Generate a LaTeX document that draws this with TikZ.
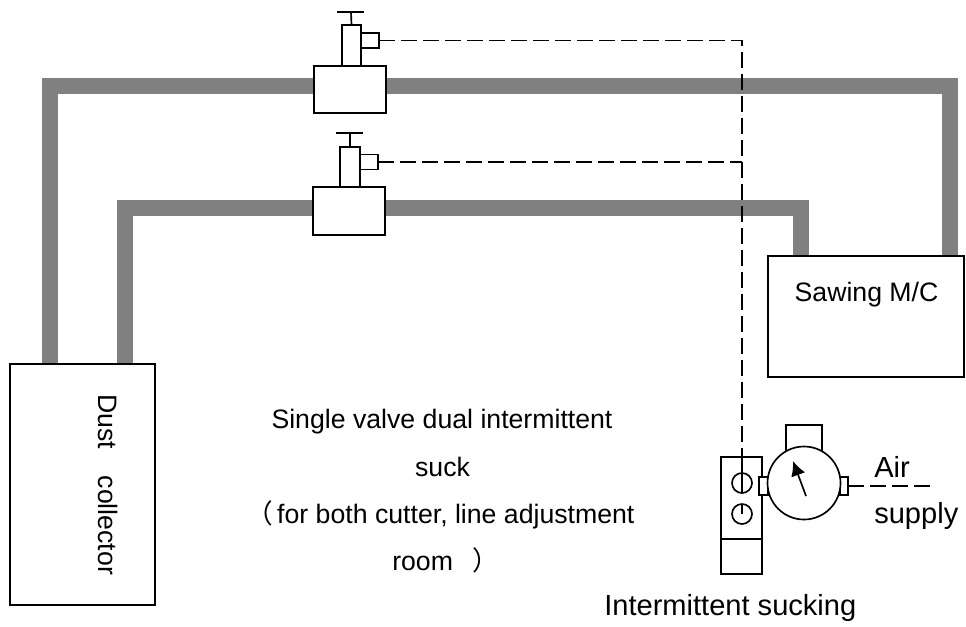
\documentclass[tikz,border=0pt]{standalone}
\usepackage{fontspec}
\setmainfont{Liberation Sans}
\newfontfamily\cjk{Noto Sans CJK SC}
\usetikzlibrary{arrows.meta,backgrounds}
\definecolor{ductgray}{HTML}{808080}
\tikzset{
  boxsize/.style 2 args={minimum width=#1*0.75pt,minimum height=#2*0.75pt},
  box/.style={draw,fill=white,line width=1.25pt,inner sep=0pt,outer sep=0pt},
  roundbox/.style={box,circle,minimum size=#1*0.75pt},
  duct/.style={line width=12pt,draw=ductgray},
  signal/.style={line width=1.3pt,dash pattern=on 12pt off 4.5pt},
  rod/.style={line width=1.25pt},
  txt/.style={inner sep=0pt,anchor=base,font=\fontsize{20}{24}\selectfont},
  bigtxt/.style={inner sep=0pt,anchor=base west,font=\fontsize{21.8}{26}\selectfont},
}
\begin{document}
\begin{tikzpicture}[x=0.75pt,y=-0.75pt]
  \useasboundingbox (0,0) rectangle (966,626);

  \node[box,boxsize={145}{241}] (dust) at (82.5,484.5) {};
  \node[box,boxsize={196}{121}] (saw) at (866,316.5) {};

  \coordinate (cornerA) at (49.5,86);
  \coordinate (cornerB) at (950,86);
  \coordinate (cornerC) at (125,208);
  \coordinate (cornerD) at (801,208);
  \begin{scope}[on background layer]
    \draw[duct] (cornerA |- dust.north) -- (cornerA) -- (cornerB) -- (cornerB |- saw.north);
    \draw[duct] (cornerC |- dust.north) -- (cornerC) -- (cornerD) -- (cornerD |- saw.north);
  \end{scope}

  % upper valve
  \node[box,boxsize={72}{47}] (bodyA) at (350,89.5) {};
  \node[box,boxsize={19}{41}] (stemA) at (351.5,45.5) {};
  \node[box,boxsize={18}{15}] (sideA) at (370,40.5) {};
  \coordinate (knobA) at (351,12);
  \draw[rod] (knobA) -- (stemA.north);
  \draw[rod] ([xshift=-10.5pt]knobA) -- ([xshift=10pt]knobA);

  % lower valve
  \node[box,boxsize={72}{48}] (bodyB) at (349,211) {};
  \node[box,boxsize={20}{40}] (stemB) at (350,167) {};
  \node[box,boxsize={18}{15}] (sideB) at (369,162) {};
  \coordinate (knobB) at (350,133);
  \draw[rod] (knobB) -- (stemB.north);
  \draw[rod] ([xshift=-10.5pt]knobB) -- ([xshift=10pt]knobB);

  % timer and gauge
  \node[box,boxsize={41}{117}] (timer) at (741.5,515.5) {};
  \node[box,boxsize={41}{35}] (timerfoot) at (741.5,556.5) {};
  \node[roundbox=20] (holeA) at (742,483) {};
  \node[roundbox=20] (holeB) at (742,514) {};
  \node[box,boxsize={36}{30}] (gaugetop) at (804,440) {};
  \node[box,boxsize={9}{18}] (portL) at (763.5,486) {};
  \node[box,boxsize={8}{18}] (portR) at (844,486) {};
  \node[roundbox=73] (gauge) at (804,483) {};
  \coordinate (needle) at (806,496);
  \coordinate (needletip) at (793,461);
  \coordinate (airend) at (930,486);
  \draw[rod,-{Latex[length=11pt,width=11pt]}] (needle) -- (needletip);

  \draw[signal] (sideA.east) -| (timer.north -| holeA);
  \draw[signal] (sideB.east) -- (sideB.east -| holeA);
  \draw[signal] (portR.east) -- (airend);
  \draw[rod] (timer.north -| holeA) -- (holeA.south);
  \draw[rod] (holeB.north) -- (holeB.center);

  \node[txt] (sawtext) at (866.5,301) {Sawing M/C};
  \node[txt,anchor=base west,rotate=-90] (dusttext) at (98,394) {Dust\hspace{20pt}collector};
  \node[txt] (lineA) at (442,428) {Single valve dual intermittent};
  \node[txt] (lineB) at (442.5,476) {suck};
  \node[txt,anchor=base west] (lineC) at (246,523) {{\cjk（}\hspace{3.2pt}for both cutter, line adjustment};
  \node[txt,anchor=base west] (lineD) at (392,570) {room\hspace{14.5pt}{\cjk）}};
  \node[bigtxt] (airtext) at (874,477) {Air};
  \node[bigtxt] (supplytext) at (874,523) {supply};
  \node[bigtxt] (bottomtext) at (604,615) {Intermittent sucking};
\end{tikzpicture}
\end{document}
